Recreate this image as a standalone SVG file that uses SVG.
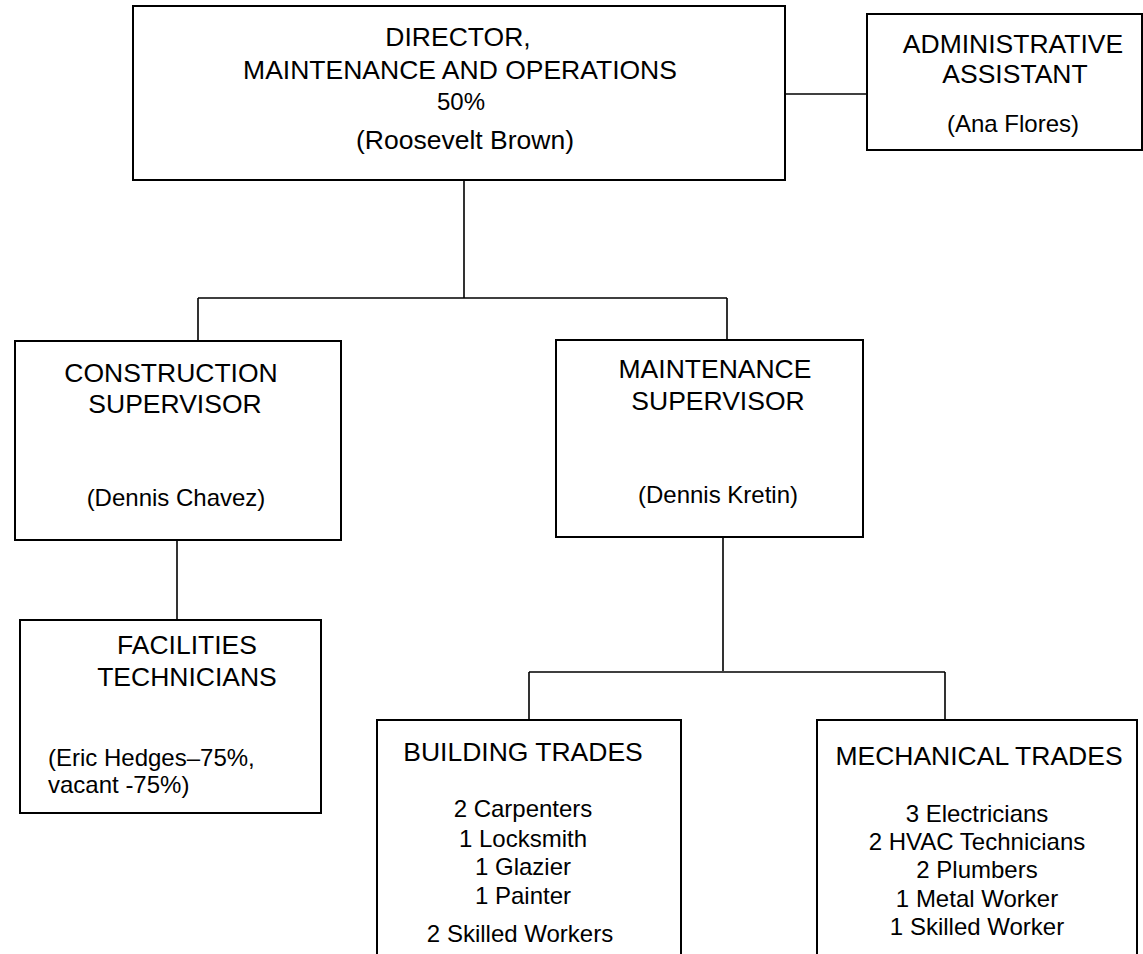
<svg xmlns="http://www.w3.org/2000/svg" width="1143" height="954" viewBox="0 0 1143 954">
<style>
.box{fill:#fff;stroke:#000;stroke-width:2}
.ln{fill:none;stroke:#000;stroke-width:1.6}
text{font-family:"Liberation Sans",Arial,sans-serif;fill:#000;text-anchor:middle}
.h{font-size:26.5px}
.t{font-size:24px}
.l{text-anchor:start}
</style>
<rect width="1143" height="954" fill="#fff"/>
<g id="connectors">
<path class="ln" d="M464 180V298M198 298H727M198 298V341M727 298V340"/>
<path class="ln" d="M785 94H867"/>
<path class="ln" d="M177 540V620"/>
<path class="ln" d="M723 537V671M529 672H945M529 672V720M945 672V720"/>
</g>
<g id="director">
<rect class="box" x="133" y="6" width="652" height="174"/>
<text class="h" x="458" y="46">DIRECTOR,</text>
<text class="h" x="460" y="79">MAINTENANCE AND OPERATIONS</text>
<text class="t" x="461" y="110">50%</text>
<text class="h" x="465" y="149">(Roosevelt Brown)</text>
</g>
<g id="admin">
<rect class="box" x="867" y="14" width="275" height="136"/>
<text class="h" x="1013" y="53">ADMINISTRATIVE</text>
<text class="h" x="1015" y="83">ASSISTANT</text>
<text class="t" x="1013" y="132">(Ana Flores)</text>
</g>
<g id="construction">
<rect class="box" x="15" y="341" width="326" height="199"/>
<text class="h" x="171" y="382">CONSTRUCTION</text>
<text class="h" x="175" y="413">SUPERVISOR</text>
<text class="t" x="176" y="506">(Dennis Chavez)</text>
</g>
<g id="maintenance">
<rect class="box" x="556" y="340" width="307" height="197"/>
<text class="h" x="715" y="378">MAINTENANCE</text>
<text class="h" x="718" y="410">SUPERVISOR</text>
<text class="t" x="718" y="503">(Dennis Kretin)</text>
</g>
<g id="facilities">
<rect class="box" x="20" y="620" width="301" height="193"/>
<text class="h" x="187" y="654">FACILITIES</text>
<text class="h" x="187" y="686">TECHNICIANS</text>
<text class="t l" x="48" y="766">(Eric Hedges–75%,</text>
<text class="t l" x="48" y="793">vacant -75%)</text>
</g>
<g id="building">
<path class="box" d="M377 960V720H681V960"/>
<text class="h" x="523" y="761">BUILDING TRADES</text>
<text class="t" x="523" y="817">2 Carpenters</text>
<text class="t" x="523" y="847">1 Locksmith</text>
<text class="t" x="523" y="875">1 Glazier</text>
<text class="t" x="523" y="904">1 Painter</text>
<text class="t" x="520" y="942">2 Skilled Workers</text>
</g>
<g id="mechanical">
<path class="box" d="M817 960V720H1137V960"/>
<text class="h" x="979" y="765">MECHANICAL TRADES</text>
<text class="t" x="977" y="822">3 Electricians</text>
<text class="t" x="977" y="850">2 HVAC Technicians</text>
<text class="t" x="977" y="878">2 Plumbers</text>
<text class="t" x="977" y="907">1 Metal Worker</text>
<text class="t" x="977" y="935">1 Skilled Worker</text>
</g>
</svg>
